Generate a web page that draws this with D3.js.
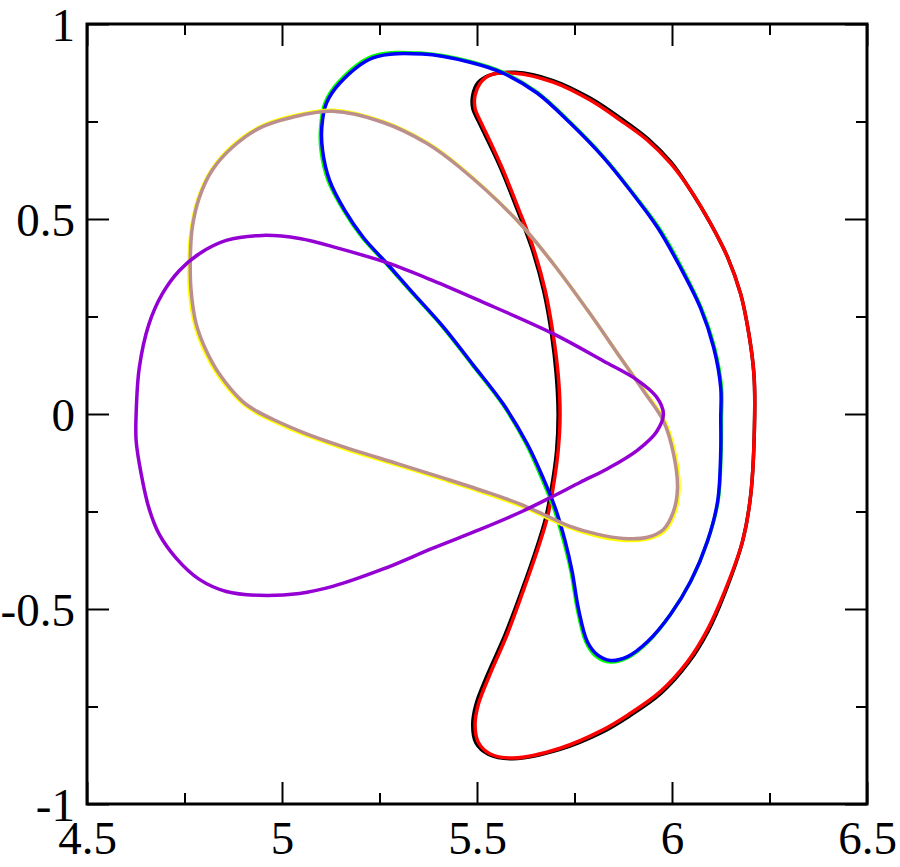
<!DOCTYPE html>
<html>
<head>
<meta charset="utf-8">
<script src="https://cdn.jsdelivr.net/npm/d3@7"></script>
<style>
  body { margin: 0; background: #fff; }
  svg text { font-family: "Liberation Serif", "Times New Roman", serif; }
</style>
</head>
<body>
<script>
// axis ticks
var xMajor = [4.5, 5, 5.5, 6, 6.5];
var xMinor = [4.75, 5.25, 5.75, 6.25];
var yMajor = [-1, -0.5, 0, 0.5, 1];
var yMinor = [-0.75, -0.25, 0.25, 0.75];

// cross sections, [R, Z]
var blackPts = [[5.503,0.850],[5.533,0.869],[5.598,0.876],[5.695,0.855],[5.790,0.810],[5.870,0.757],
  [5.939,0.705],[5.998,0.645],[6.048,0.573],[6.099,0.488],[6.143,0.401],[6.176,0.308],[6.197,0.206],[6.210,0.103],
  [6.212,0],[6.202,-0.206],[6.181,-0.326],[6.136,-0.458],[6.093,-0.556],[6.042,-0.638],[5.972,-0.716],
  [5.890,-0.775],[5.821,-0.816],[5.713,-0.860],[5.593,-0.884],[5.530,-0.873],[5.497,-0.843],[5.489,-0.797],
  [5.497,-0.746],[5.527,-0.668],[5.572,-0.566],[5.614,-0.455],[5.650,-0.352],[5.676,-0.267],[5.691,-0.190],
  [5.704,-0.095],[5.708,0],[5.703,0.103],[5.691,0.206],[5.671,0.316],[5.640,0.427],[5.601,0.530],[5.560,0.632],
  [5.521,0.715],[5.505,0.748],[5.489,0.784],[5.489,0.817]];
var redPts = [[5.508,0.848],[5.533,0.869],[5.598,0.874],[5.695,0.851],[5.790,0.805],[5.868,0.753],
  [5.937,0.702],[5.996,0.643],[6.048,0.573],[6.099,0.488],[6.143,0.401],[6.176,0.308],[6.197,0.206],[6.210,0.103],
  [6.212,0],[6.202,-0.206],[6.181,-0.326],[6.135,-0.455],[6.091,-0.553],[6.040,-0.635],[5.970,-0.712],
  [5.888,-0.771],[5.819,-0.812],[5.713,-0.857],[5.593,-0.882],[5.533,-0.871],[5.503,-0.841],[5.495,-0.797],
  [5.503,-0.746],[5.533,-0.668],[5.577,-0.566],[5.618,-0.455],[5.654,-0.352],[5.680,-0.267],[5.695,-0.190],
  [5.708,-0.095],[5.713,0],[5.708,0.103],[5.695,0.206],[5.675,0.316],[5.644,0.427],[5.605,0.530],[5.564,0.632],
  [5.526,0.715],[5.510,0.748],[5.495,0.784],[5.495,0.817]];
var greenPts = [[5.231,0.917],[5.361,0.925],[5.482,0.904],[5.567,0.876],[5.654,0.825],[5.739,0.748],[5.824,0.660],
  [5.893,0.575],[5.966,0.478],[6.025,0.375],[6.075,0.272],[6.109,0.170],[6.127,0.067],[6.127,-0.010],[6.126,-0.095],
  [6.118,-0.224],[6.091,-0.326],[6.048,-0.429],[5.996,-0.514],[5.937,-0.586],[5.886,-0.625],[5.842,-0.636],
  [5.804,-0.620],[5.779,-0.584],[5.757,-0.499],[5.741,-0.404],[5.722,-0.326],[5.697,-0.242],[5.666,-0.165],
  [5.626,-0.077],[5.565,0.026],[5.488,0.126],[5.411,0.224],[5.333,0.311],[5.267,0.386],[5.206,0.452],[5.158,0.522],
  [5.118,0.599],[5.100,0.676],[5.099,0.735],[5.110,0.797],[5.144,0.850]];
var bluePts = [[5.233,0.913],[5.361,0.923],[5.482,0.902],[5.567,0.874],[5.654,0.823],[5.739,0.746],[5.824,0.658],
  [5.893,0.573],[5.963,0.478],[6.022,0.375],[6.073,0.272],[6.107,0.170],[6.125,0.067],[6.125,-0.010],[6.125,-0.095],
  [6.117,-0.224],[6.091,-0.326],[6.048,-0.429],[5.996,-0.514],[5.937,-0.584],[5.886,-0.622],[5.842,-0.632],
  [5.808,-0.617],[5.783,-0.584],[5.760,-0.499],[5.744,-0.404],[5.726,-0.326],[5.701,-0.242],[5.670,-0.165],
  [5.629,-0.077],[5.567,0.026],[5.490,0.126],[5.413,0.224],[5.335,0.311],[5.269,0.386],[5.209,0.452],[5.161,0.522],
  [5.122,0.599],[5.104,0.676],[5.102,0.735],[5.114,0.797],[5.148,0.848]];
var yellowPts = [[5.130,0.779],[5.258,0.750],[5.371,0.696],[5.456,0.634],[5.603,0.496],[5.695,0.386],[5.790,0.257],
  [5.868,0.144],[5.929,0.059],[5.981,-0.018],[6.008,-0.103],[6.018,-0.190],[6.008,-0.251],[5.981,-0.300],
  [5.939,-0.320],[5.875,-0.324],[5.808,-0.313],[5.739,-0.292],[5.670,-0.261],[5.611,-0.235],[5.533,-0.207],
  [5.423,-0.171],[5.302,-0.133],[5.166,-0.091],[5.063,-0.055],[4.986,-0.022],[4.933,0.004],[4.896,0.030],
  [4.836,0.100],[4.802,0.160],[4.776,0.231],[4.763,0.316],[4.762,0.401],[4.768,0.478],[4.786,0.555],[4.819,0.625],
  [4.871,0.686],[4.941,0.735],[5.027,0.764]];
var tanPts = [[5.130,0.776],[5.258,0.748],[5.371,0.694],[5.456,0.632],[5.603,0.496],[5.695,0.386],[5.790,0.257],
  [5.868,0.144],[5.927,0.059],[5.978,-0.018],[6.004,-0.103],[6.014,-0.190],[6.004,-0.249],[5.978,-0.296],
  [5.937,-0.316],[5.875,-0.319],[5.808,-0.308],[5.739,-0.288],[5.670,-0.257],[5.611,-0.231],[5.533,-0.203],
  [5.423,-0.167],[5.302,-0.129],[5.166,-0.087],[5.063,-0.051],[4.986,-0.018],[4.934,0.008],[4.898,0.033],
  [4.839,0.103],[4.806,0.162],[4.780,0.231],[4.767,0.316],[4.765,0.401],[4.770,0.478],[4.788,0.555],[4.821,0.625],
  [4.873,0.684],[4.942,0.733],[5.027,0.761]];
var violetPts = [[4.626,0],[4.634,0.118],[4.659,0.231],[4.693,0.308],[4.737,0.368],[4.788,0.411],[4.857,0.445],
  [4.950,0.458],[5.045,0.450],[5.148,0.424],[5.269,0.388],[5.387,0.342],[5.508,0.290],[5.695,0.206],[5.824,0.136],
  [5.911,0.087],[5.960,0.044],[5.978,0],[5.960,-0.046],[5.911,-0.093],[5.837,-0.139],[5.765,-0.175],[5.695,-0.211],
  [5.611,-0.252],[5.508,-0.296],[5.387,-0.344],[5.258,-0.398],[5.130,-0.442],[5.045,-0.460],[4.942,-0.465],
  [4.857,-0.455],[4.788,-0.424],[4.729,-0.370],[4.685,-0.308],[4.659,-0.242],[4.639,-0.154],[4.626,-0.069]];

var series = [
  {pts: blackPts, color: "#000000"},
  {pts: redPts, color: "#ff0000"},
  {pts: greenPts, color: "#00ff00"},
  {pts: bluePts, color: "#0000ff"},
  {pts: yellowPts, color: "#ffff00"},
  {pts: tanPts, color: "#bc8f8f"},
  {pts: violetPts, color: "#9400d3"}
];

var width = 900, height = 867;
var plotLeft = 87, plotRight = 867, plotTop = 24, plotBottom = 804;

var svg = d3.select("body").append("svg")
  .attr("width", width)
  .attr("height", height);

var x = d3.scaleLinear().domain([4.5, 6.5]).range([plotLeft, plotRight]);
var y = d3.scaleLinear().domain([-1, 1]).range([plotBottom, plotTop]);

var line = d3.line()
  .x(function(d){ return x(d[0]); })
  .y(function(d){ return y(d[1]); })
  .curve(d3.curveCatmullRomClosed.alpha(0.5));

svg.append("g")
  .selectAll("path")
  .data(series)
  .enter()
  .append("path")
    .attr("d", function(d){ return line(d.pts); })
    .attr("fill", "none")
    .attr("stroke", function(d){ return d.color; })
    .attr("stroke-width", 3.5)
    .attr("stroke-linejoin", "round");

// axes, ticks pointing inward
function styleAxis(g){
  g.select(".domain").remove();
  g.selectAll(".tick line").attr("stroke", "#000").attr("stroke-width", 2);
  g.selectAll(".tick text").attr("fill", "#000").attr("font-size", 47)
    .attr("font-family", "Liberation Serif, Times New Roman, serif");
}
var fmt = function(d){ return String(d); };

svg.append("g").attr("transform", "translate(0," + plotBottom + ")")
  .call(d3.axisBottom(x).tickValues(xMajor).tickSize(-22).tickPadding(17).tickFormat(fmt))
  .call(styleAxis);
svg.append("g").attr("transform", "translate(0," + plotBottom + ")")
  .call(d3.axisBottom(x).tickValues(xMinor).tickSize(-11).tickFormat(""))
  .call(styleAxis);
svg.append("g").attr("transform", "translate(0," + plotTop + ")")
  .call(d3.axisTop(x).tickValues(xMajor).tickSize(-22).tickFormat(""))
  .call(styleAxis);
svg.append("g").attr("transform", "translate(0," + plotTop + ")")
  .call(d3.axisTop(x).tickValues(xMinor).tickSize(-11).tickFormat(""))
  .call(styleAxis);

svg.append("g").attr("transform", "translate(" + plotLeft + ",0)")
  .call(d3.axisLeft(y).tickValues(yMajor).tickSize(-22).tickPadding(12).tickFormat(fmt))
  .call(styleAxis)
  .selectAll(".tick text").attr("dy", "0.36em");
svg.append("g").attr("transform", "translate(" + plotLeft + ",0)")
  .call(d3.axisLeft(y).tickValues(yMinor).tickSize(-11).tickFormat(""))
  .call(styleAxis);
svg.append("g").attr("transform", "translate(" + plotRight + ",0)")
  .call(d3.axisRight(y).tickValues(yMajor).tickSize(-22).tickFormat(""))
  .call(styleAxis);
svg.append("g").attr("transform", "translate(" + plotRight + ",0)")
  .call(d3.axisRight(y).tickValues(yMinor).tickSize(-11).tickFormat(""))
  .call(styleAxis);

// frame
svg.append("rect")
  .attr("x", plotLeft)
  .attr("y", plotTop)
  .attr("width", plotRight - plotLeft)
  .attr("height", plotBottom - plotTop)
  .attr("fill", "none")
  .attr("stroke", "#000")
  .attr("stroke-width", 3);
</script>
</body>
</html>
